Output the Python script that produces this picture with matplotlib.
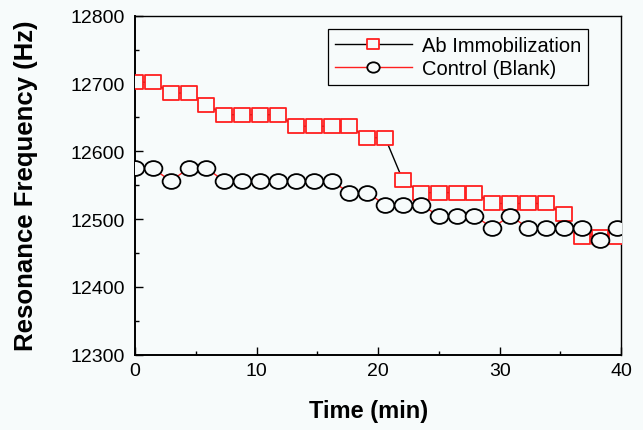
import numpy as np
import matplotlib
matplotlib.use("Agg")
import matplotlib.pyplot as plt
from matplotlib.path import Path
from matplotlib.transforms import Affine2D
from matplotlib.ticker import MultipleLocator

# Sampling times (min)
time_min = [0.00, 1.47, 2.94, 4.41, 5.88, 7.35, 8.82, 10.29, 11.76, 13.23,
            14.70, 16.17, 17.64, 19.11, 20.58, 22.05, 23.52, 24.99, 26.46,
            27.93, 29.40, 30.87, 32.34, 33.81, 35.28, 36.75, 38.22, 39.69]

# Resonance frequency (Hz)
ab_immobilization = [12702, 12702, 12686, 12686, 12669, 12654, 12654, 12654,
                     12654, 12637, 12637, 12637, 12637, 12620, 12620, 12557,
                     12539, 12539, 12539, 12539, 12523, 12523, 12523, 12523,
                     12507, 12474, 12474, 12474]
control_blank = [12575, 12575, 12556, 12575, 12575, 12556, 12556, 12556,
                 12556, 12556, 12556, 12556, 12539, 12539, 12521, 12521,
                 12521, 12505, 12505, 12505, 12487, 12505, 12487, 12487,
                 12487, 12487, 12469, 12487]

series_labels = ["Ab Immobilization", "Control (Blank)"]
x_ticks = [0, 10, 20, 30, 40]
y_ticks = [12300, 12400, 12500, 12600, 12700, 12800]

BG = "#f7fbfb"
RED = "#ff1f1f"

# Slightly wide square and ellipse markers
wide = Affine2D().scale(1.2, 1.0)
square_marker = Path([(-1.2, -1), (1.2, -1), (1.2, 1), (-1.2, 1), (-1.2, -1)],
                     [Path.MOVETO, Path.LINETO, Path.LINETO, Path.LINETO,
                      Path.CLOSEPOLY])
ellipse_marker = Path.unit_circle().transformed(wide)

plt.rcParams["font.family"] = ["Liberation Sans", "DejaVu Sans"]

fig = plt.figure(figsize=(6.43, 4.31), dpi=100, facecolor=BG)
ax = fig.add_axes([0.210, 0.175, 0.756, 0.786], facecolor=BG)

ax.plot(time_min, ab_immobilization, color="black", lw=1.0,
        marker=square_marker, ms=11.5, mfc=BG, mec=RED, mew=1.3,
        label=series_labels[0], zorder=3)
ax.plot(time_min, control_blank, color=RED, lw=1.0,
        marker=ellipse_marker, ms=12.8, mfc=BG, mec="black", mew=1.3,
        label=series_labels[1], zorder=4)

ax.set_xlim(0, 40)
ax.set_ylim(12300, 12800)
ax.set_xticks(x_ticks)
ax.set_yticks(y_ticks)
ax.xaxis.set_minor_locator(MultipleLocator(5))
ax.yaxis.set_minor_locator(MultipleLocator(50))
ax.tick_params(which="both", direction="in", top=False, right=False,
               labelsize=14, width=1.0)
ax.tick_params(which="major", length=5.5)
ax.tick_params(which="minor", length=3)
ax.tick_params(axis="x", pad=5)
ax.tick_params(axis="y", pad=7)

for side in ("left", "bottom"):
    ax.spines[side].set_linewidth(1.4)
for side in ("top", "right"):
    ax.spines[side].set_linewidth(1.0)

ax.set_xlabel("Time (min)", fontsize=17, fontweight="bold")
ax.set_ylabel("Resonance Frequency (Hz)", fontsize=18.5, fontweight="bold")
ax.xaxis.set_label_coords(0.48, -0.13)
ax.yaxis.set_label_coords(-0.2, 0.5)

leg = ax.legend(loc="upper right", bbox_to_anchor=(0.932, 0.962),
                borderaxespad=0, fontsize=14.5, markerscale=0.7,
                handlelength=3.8, handletextpad=0.5, labelspacing=0.2,
                borderpad=0.35, fancybox=False, framealpha=1,
                edgecolor="black", facecolor=BG)
leg.get_frame().set_linewidth(0.9)

fig.savefig("out.png", dpi=100, facecolor=BG)
